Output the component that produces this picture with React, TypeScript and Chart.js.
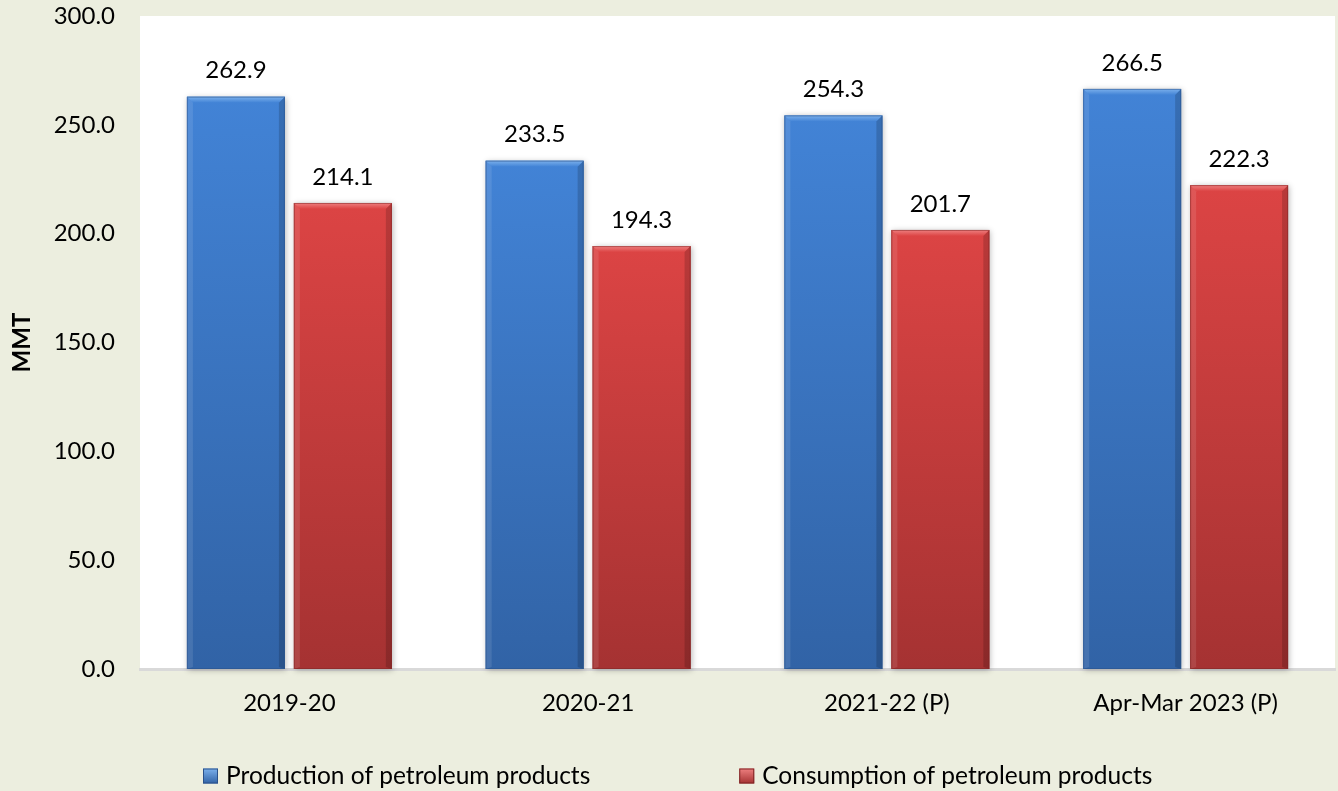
import React, { useEffect, useRef } from 'react';
import { Chart, registerables } from 'chart.js';

Chart.register(...registerables);

const categories = ['2019-20', '2020-21', '2021-22 (P)', 'Apr-Mar 2023 (P)'];
const productionValues = [262.9, 233.5, 254.3, 266.5];
const consumptionValues = [214.1, 194.3, 201.7, 222.3];
const seriesLabels = ['Production of petroleum products', 'Consumption of petroleum products'];
const yMin = 0;
const yMax = 300;
const yStep = 50;
const yAxisTitle = 'MMT';

const FONT = 'Lato, "Open Sans", sans-serif';
const BG = '#ECEEDF';
const TEXT = '#000000';

const palettes = [
  { top: '#4283D6', bottom: '#3163A6', light: '#7CB1EC', dark: '#2A518A' },
  { top: '#DC4444', bottom: '#A53232', light: '#EE8080', dark: '#7E2525' },
];

const W = 1338;
const H = 791;

function makeGradient(ctx: any, pal: any) {
  const chart = ctx.chart;
  if (!chart.chartArea || ctx.type !== 'data') return pal.top;
  const ys = chart.scales.y;
  const top = ys.getPixelForValue(ctx.raw as number);
  const base = ys.getPixelForValue(0);
  const g = chart.ctx.createLinearGradient(0, top, 0, base);
  g.addColorStop(0, pal.top);
  g.addColorStop(1, pal.bottom);
  return g;
}

const backgroundPlugin = {
  id: 'bgPlugin',
  beforeDraw(chart: any) {
    const { ctx, chartArea } = chart;
    ctx.save();
    ctx.fillStyle = BG;
    ctx.fillRect(0, 0, chart.width, chart.height);
    ctx.fillStyle = '#FFFFFF';
    ctx.fillRect(chartArea.left, chartArea.top, chartArea.right - chartArea.left, chartArea.bottom - chartArea.top);
    ctx.restore();
  },
};

const bevelPlugin = {
  id: 'bevelPlugin',
  beforeDatasetsDraw(chart: any) {
    const ctx = chart.ctx;
    chart.data.datasets.forEach((ds: any, di: number) => {
      const meta = chart.getDatasetMeta(di);
      meta.data.forEach((bar: any) => {
        const { x, y, width, base } = bar.getProps(['x', 'y', 'width', 'base'], true);
        ctx.save();
        ctx.shadowColor = 'rgba(0,0,0,0.28)';
        ctx.shadowBlur = 6;
        ctx.shadowOffsetX = 1;
        ctx.shadowOffsetY = 1;
        ctx.fillStyle = palettes[di].bottom;
        ctx.fillRect(x - width / 2, y, width, base - y);
        ctx.restore();
      });
    });
  },
  afterDatasetsDraw(chart: any) {
    const ctx = chart.ctx;
    chart.data.datasets.forEach((ds: any, di: number) => {
      const pal = palettes[di];
      const meta = chart.getDatasetMeta(di);
      meta.data.forEach((bar: any, i: number) => {
        const { x, y, width, base } = bar.getProps(['x', 'y', 'width', 'base'], true);
        const l = x - width / 2;
        const r = x + width / 2;
        const b = 6;
        ctx.save();
        const tg = ctx.createLinearGradient(0, y, 0, y + b);
        tg.addColorStop(0, pal.light);
        tg.addColorStop(1, pal.top);
        ctx.fillStyle = tg;
        ctx.beginPath();
        ctx.moveTo(l, y);
        ctx.lineTo(r, y);
        ctx.lineTo(r - b, y + b);
        ctx.lineTo(l + b, y + b);
        ctx.closePath();
        ctx.fill();
        ctx.fillStyle = 'rgba(255,255,255,0.10)';
        ctx.beginPath();
        ctx.moveTo(l, y);
        ctx.lineTo(l + b, y + b);
        ctx.lineTo(l + b, base - 2);
        ctx.lineTo(l, base);
        ctx.closePath();
        ctx.fill();
        ctx.fillStyle = 'rgba(0,0,0,0.16)';
        ctx.beginPath();
        ctx.moveTo(r, y);
        ctx.lineTo(r - b, y + b);
        ctx.lineTo(r - b, base - 2);
        ctx.lineTo(r, base);
        ctx.closePath();
        ctx.fill();
        ctx.strokeStyle = pal.dark;
        ctx.globalAlpha = 0.5;
        ctx.lineWidth = 1;
        ctx.strokeRect(l + 0.5, y + 0.5, width - 1, base - y - 1);
        ctx.globalAlpha = 1;
        ctx.fillStyle = TEXT;
        ctx.font = `24px ${FONT}`;
        ctx.textAlign = 'center';
        ctx.textBaseline = 'middle';
        const v = ds.data[i] as number;
        ctx.fillText(v.toFixed(1), x, y - 26);
        ctx.restore();
      });
    });
  },
};

const legendPlugin = {
  id: 'customLegend',
  afterDraw(chart: any) {
    const ctx = chart.ctx;
    ctx.save();
    ctx.font = `24.5px ${FONT}`;
    ctx.textBaseline = 'middle';
    ctx.textAlign = 'left';
    const box = 15;
    const gapText = 8;
    const gapItems = 149;
    const cy = 776;
    let x = chart.chartArea.left + 63;
    chart.data.datasets.forEach((ds: any, di: number) => {
      const pal = palettes[di];
      const g = ctx.createLinearGradient(0, cy - box / 2, 0, cy + box / 2);
      g.addColorStop(0, pal.light);
      g.addColorStop(1, pal.bottom);
      ctx.fillStyle = g;
      ctx.fillRect(x, cy - box / 2, box, box);
      ctx.strokeStyle = pal.dark;
      ctx.lineWidth = 1;
      ctx.strokeRect(x + 0.5, cy - box / 2 + 0.5, box - 1, box - 1);
      ctx.fillStyle = TEXT;
      ctx.fillText(ds.label, x + box + gapText, cy);
      x += box + gapText + ctx.measureText(ds.label).width + gapItems;
    });
    ctx.restore();
  },
};

export default function App() {
  const ref = useRef<HTMLCanvasElement | null>(null);

  useEffect(() => {
    document.body.style.margin = '0';
    document.body.style.background = BG;
    const canvas = ref.current;
    if (!canvas) return;
    const chart = new Chart(canvas, {
      type: 'bar',
      data: {
        labels: categories,
        datasets: [
          {
            label: seriesLabels[0],
            data: productionValues,
            backgroundColor: (c: any) => makeGradient(c, palettes[0]),
            borderWidth: 0,
            categoryPercentage: 0.716,
            barPercentage: 0.916,
          },
          {
            label: seriesLabels[1],
            data: consumptionValues,
            backgroundColor: (c: any) => makeGradient(c, palettes[1]),
            borderWidth: 0,
            categoryPercentage: 0.716,
            barPercentage: 0.916,
          },
        ],
      },
      options: {
        responsive: false,
        animation: false,
        devicePixelRatio: 1,
        layout: { padding: { top: 16, right: 3, left: 0, bottom: 0 } },
        plugins: {
          legend: { display: false },
          tooltip: { enabled: false },
        },
        scales: {
          x: {
            grid: { display: false, drawTicks: false },
            border: { display: true, color: '#D9D9D9', width: 3 },
            ticks: {
              color: TEXT,
              font: { family: FONT, size: 24 },
              padding: 20,
              maxRotation: 0,
            },
            afterFit: (s: any) => {
              s.height = 122;
              s.paddingLeft = 0;
              s.paddingRight = 0;
            },
          },
          y: {
            min: yMin,
            max: yMax,
            grid: { display: false, drawTicks: false },
            border: { display: false },
            ticks: {
              stepSize: yStep,
              color: TEXT,
              font: { family: FONT, size: 24 },
              padding: 25,
              callback: (v: any) => Number(v).toFixed(1),
            },
            title: {
              display: true,
              text: yAxisTitle,
              color: TEXT,
              font: { family: FONT, size: 24, weight: 'bold' },
              padding: { top: 8, bottom: 0 },
            },
            afterFit: (s: any) => {
              s.width = 140;
              s.paddingTop = 0;
              s.paddingBottom = 0;
            },
          },
        },
      } as any,
      plugins: [backgroundPlugin, bevelPlugin, legendPlugin],
    });
    return () => chart.destroy();
  }, []);

  return (
    <div style={{ width: W, height: H, background: BG }}>
      <canvas ref={ref} width={W} height={H} style={{ display: 'block' }} />
    </div>
  );
}
